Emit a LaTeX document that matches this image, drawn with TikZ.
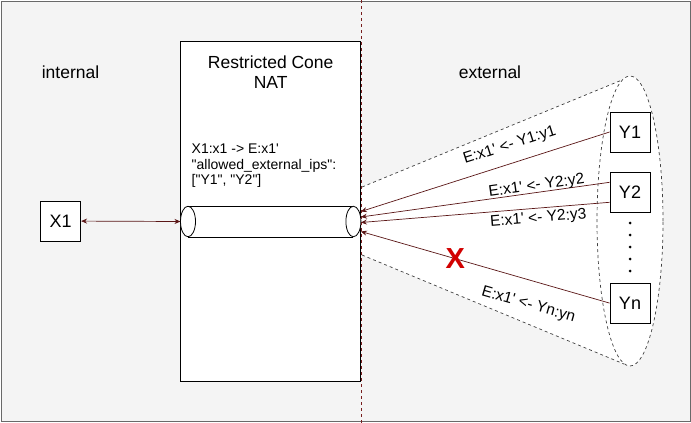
\documentclass[tikz,border=0pt]{standalone}
\usepackage{fontspec}
\setmainfont{Liberation Sans}[Ligatures=TeXOff]
\usetikzlibrary{arrows.meta,positioning}

\definecolor{canvasgray}{RGB}{244,244,244}
\definecolor{framegray}{RGB}{105,105,105}
\definecolor{linkred}{RGB}{90,22,22}
\definecolor{rulered}{RGB}{120,30,30}
\definecolor{blockred}{RGB}{210,0,0}

\tikzset{
  box/.style={draw, fill=white, line width=0.8pt, minimum size=40pt, inner sep=0pt,
    font=\fontsize{18}{18}\selectfont},
  link/.style={draw=linkred, line width=0.7pt, ->},
  maplabel/.style={sloped, inner sep=0pt, font=\fontsize{15.5}{15.5}\selectfont},
  conedash/.style={draw=black!75, line width=0.7pt, dash pattern=on 3pt off 3pt},
  divider/.style={draw=rulered, line width=0.7pt, dash pattern=on 3pt off 3pt},
  sidelabel/.style={font=\fontsize{17.5}{17.5}\selectfont},
}

\begin{document}
\begin{tikzpicture}[x=1pt,y=-1pt,>={Stealth[length=6pt,width=5pt]}]
  \useasboundingbox (0,0) rectangle (691,423);
  \draw[framegray, line width=1pt, fill=canvasgray] (1,1) rectangle (690,421);

  % cone of external hosts
  \fill[white] (630,221) ellipse (33pt and 145pt);
  \fill[white] (362,187) -- (622,80) -- (630,221) -- (624,364) -- (362,255) -- cycle;
  \draw[conedash] (362,187) -- (622,80);
  \draw[conedash] (362,255) -- (624,364);
  \draw[conedash] (630,221) ellipse (33pt and 145pt);

  % NAT
  \node[draw, fill=white, line width=0.8pt, minimum width=180pt, minimum height=340pt,
    inner sep=0pt] (nat) at (270.7,211) {};
  \node[align=center, font=\fontsize{17.5}{20}\selectfont] (title) at (270.7,71.7)
    {Restricted Cone\\NAT};
  \node[align=left, anchor=north west, inner sep=0pt, font=\fontsize{14}{15.3}\selectfont]
    (mapping) at (191.5,144) {X1:x1 -> E:x1'\\"allowed\_external\_ips":\\{[}"Y1", "Y2"{]}};

  % tunnel through the NAT
  \node[minimum width=180pt, minimum height=30.5pt, inner sep=0pt] (tunnel) at (270.7,221.5) {};
  \fill[white] ([xshift=7.5pt]tunnel.north west) rectangle ([xshift=-7.5pt]tunnel.south east);
  \draw[line width=0.8pt] ([xshift=7.5pt]tunnel.north west) -- ([xshift=-7.5pt]tunnel.north east)
    ([xshift=7.5pt]tunnel.south west) -- ([xshift=-7.5pt]tunnel.south east);
  \draw[line width=0.8pt, fill=white] ([xshift=7.5pt]tunnel.west) ellipse (7.5pt and 15.25pt);
  \draw[line width=0.8pt, fill=white] ([xshift=-7.5pt]tunnel.east) ellipse (7.5pt and 15.25pt);

  \draw[divider] (361,0) -- (361,423);

  \node[sidelabel] (inlabel) at (70.5,72.5) {internal};
  \node[sidelabel] (exlabel) at (490,72.5) {external};

  % hosts
  \node[box] (x1) at (60.7,221) {X1};
  \node[box] (y1) at (630,132) {Y1};
  \node[box] (y2) [below=19.5pt of y1] {Y2};
  \node[box] (yn) [below=70pt of y2] {Yn};
  \foreach \k in {0,...,4}
    \fill (630,223+12*\k) circle (1.5pt);

  % connections
  \draw[link, <->] (x1) -- (tunnel.west);
  \draw[link] (y1.west) -- node[maplabel, above=10pt, pos=0.38] {E:x1' <- Y1:y1}
    ([yshift=10pt]tunnel.east);
  \draw[link] ([yshift=10pt]y2.west) -- node[maplabel, above=-1pt, pos=0.29] {E:x1' <- Y2:y2}
    ([yshift=4.5pt]tunnel.east);
  \draw[link] ([yshift=-10pt]y2.west) -- node[maplabel, below=3pt, pos=0.29] {E:x1' <- Y2:y3}
    ([yshift=-1pt]tunnel.east);
  \draw[link] (yn.west) -- node[maplabel, below=17pt, pos=0.30] {E:x1' <- Yn:yn}
    node[pos=0.62, text=blockred, font=\bfseries\fontsize{29}{29}\selectfont] (block) {X}
    ([yshift=-10pt]tunnel.east);
\end{tikzpicture}
\end{document}
